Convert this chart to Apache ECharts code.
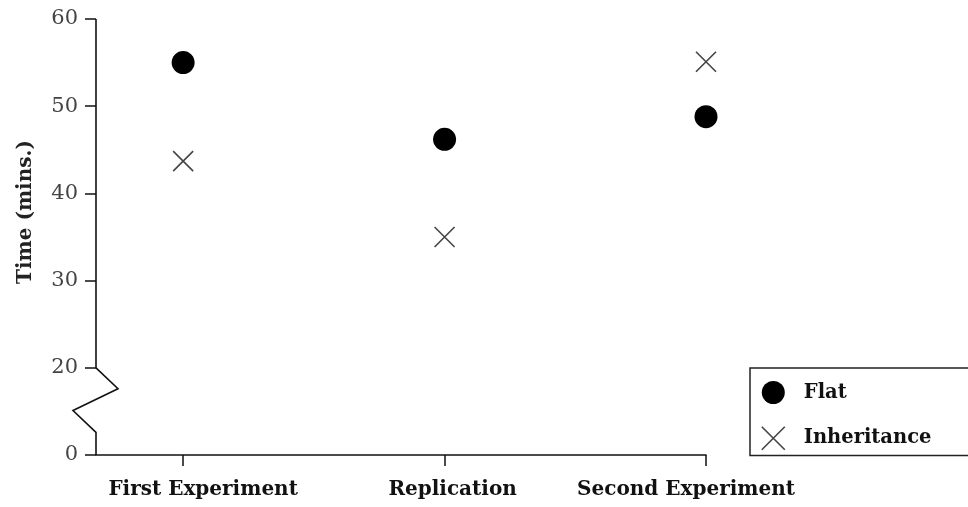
<!DOCTYPE html>
<html>
<head>
<meta charset="utf-8">
<script src="https://cdn.jsdelivr.net/npm/echarts@6/dist/echarts.min.js"></script>
<style>html,body{margin:0;padding:0;background:#fff;}#c{width:968px;height:507px;}</style>
</head>
<body>
<div id="c"></div>
<script>
// ---- data ----
var categories = ['First Experiment', 'Replication', 'Second Experiment'];
var flatValues = [55, 46.2, 48.8];
var inheritanceValues = [43.7, 35, 55.1];
var yTickValues = [10, 20, 30, 40, 50, 60]; // 10 is shown as "0" (broken axis)
var yTickLabels = ['0', '20', '30', '40', '50', '60'];
var seriesNames = ['Flat', 'Inheritance'];

// category positions on the value x axis (0..7)
function catPos(i) { return 1 + i * 3; }
var catPositions = categories.map(function (c, i) { return catPos(i); });
// label style keys (horizontal nudges of the category labels)
var labelStyles = ['c0', 'c1', 'c2'];

var crossPath = 'path://M0,0L10,10M10,0L0,10';
var serif = '"DejaVu Serif", "Liberation Serif", serif';
var xFont = { fontFamily: serif, fontSize: 20, fontWeight: 'bold', color: '#111' };

var chart = echarts.init(document.getElementById('c'));
chart.setOption({
  animation: false,
  backgroundColor: '#fff',
  grid: { left: 96, right: 262, top: 19, bottom: 52 },
  xAxis: {
    type: 'value', min: 0, max: 7,
    splitLine: { show: false },
    axisLine: { show: true, lineStyle: { color: '#111', width: 1.5 } },
    axisTick: { show: true, customValues: catPositions, length: 11, lineStyle: { color: '#111', width: 1.5 } },
    axisLabel: {
      customValues: catPositions, margin: 25,
      fontFamily: serif, fontSize: 20, fontWeight: 'bold', color: '#111',
      formatter: function (v) {
        var i = Math.round((v - 1) / 3);
        return categories[i] ? '{' + labelStyles[i] + '|' + categories[i] + '}' : '';
      },
      rich: {
        c0: Object.assign({ padding: [0, 0, 0, 40] }, xFont),
        c1: Object.assign({ padding: [0, 0, 0, 16] }, xFont),
        c2: Object.assign({ padding: [0, 40, 0, 0] }, xFont)
      }
    }
  },
  yAxis: {
    type: 'value', min: 10, max: 60, interval: 10,
    name: 'Time (mins.)', nameLocation: 'middle', nameRotate: 90, nameGap: 60,
    nameTextStyle: { fontFamily: serif, fontSize: 20, fontWeight: 'bold', color: '#222', padding: [0, 0, 0, 50] },
    splitLine: { show: false },
    axisLine: { show: false },
    axisTick: { show: true, length: 11, lineStyle: { color: '#111', width: 1.5 } },
    axisLabel: {
      margin: 18, fontFamily: serif, fontSize: 21, color: '#444',
      formatter: function (v) { var i = yTickValues.indexOf(v); return i >= 0 ? yTickLabels[i] : ''; }
    }
  },
  legend: {
    orient: 'vertical', left: 750, top: 368,
    padding: [13, 60, 5, 11], itemGap: 22, itemWidth: 23, itemHeight: 23,
    borderColor: '#222', borderWidth: 1.5, backgroundColor: '#fff',
    textStyle: { fontFamily: serif, fontSize: 19.5, fontWeight: 'bold', color: '#111', padding: [0, 0, 0, 14] },
    data: [
      { name: seriesNames[0], icon: 'circle', itemStyle: { color: '#000', opacity: 1 } },
      { name: seriesNames[1], icon: crossPath, itemStyle: { color: 'transparent', borderColor: '#444', borderWidth: 1.6 } }
    ]
  },
  series: [
    {
      name: seriesNames[0], type: 'scatter', symbol: 'circle', symbolSize: 23,
      itemStyle: { color: '#000', opacity: 1 },
      data: flatValues.map(function (v, i) { return [catPositions[i], v]; })
    },
    {
      name: seriesNames[1], type: 'scatter', symbol: crossPath, symbolSize: 20,
      itemStyle: { color: 'transparent', borderColor: '#444', borderWidth: 1.6, opacity: 1 },
      data: inheritanceValues.map(function (v, i) { return [catPositions[i], v]; })
    }
  ]
});

// y axis line with break zigzag between the "0" tick and 20
function drawAxisLine() {
  var ax = chart.convertToPixel({ xAxisIndex: 0 }, 0);
  function py(v) { return chart.convertToPixel({ yAxisIndex: 0 }, v); }
  var pts = [
    [ax, py(60)], [ax, py(20)],
    [ax + 22, py(17.6)], [ax - 23, py(15.1)],
    [ax, py(12.6)], [ax, py(10)]
  ];
  chart.setOption({
    graphic: [{
      type: 'polyline', z: 100,
      shape: { points: pts },
      style: { stroke: '#111', lineWidth: 1.6, fill: null }
    }]
  });
}
drawAxisLine();
</script>
</body>
</html>
